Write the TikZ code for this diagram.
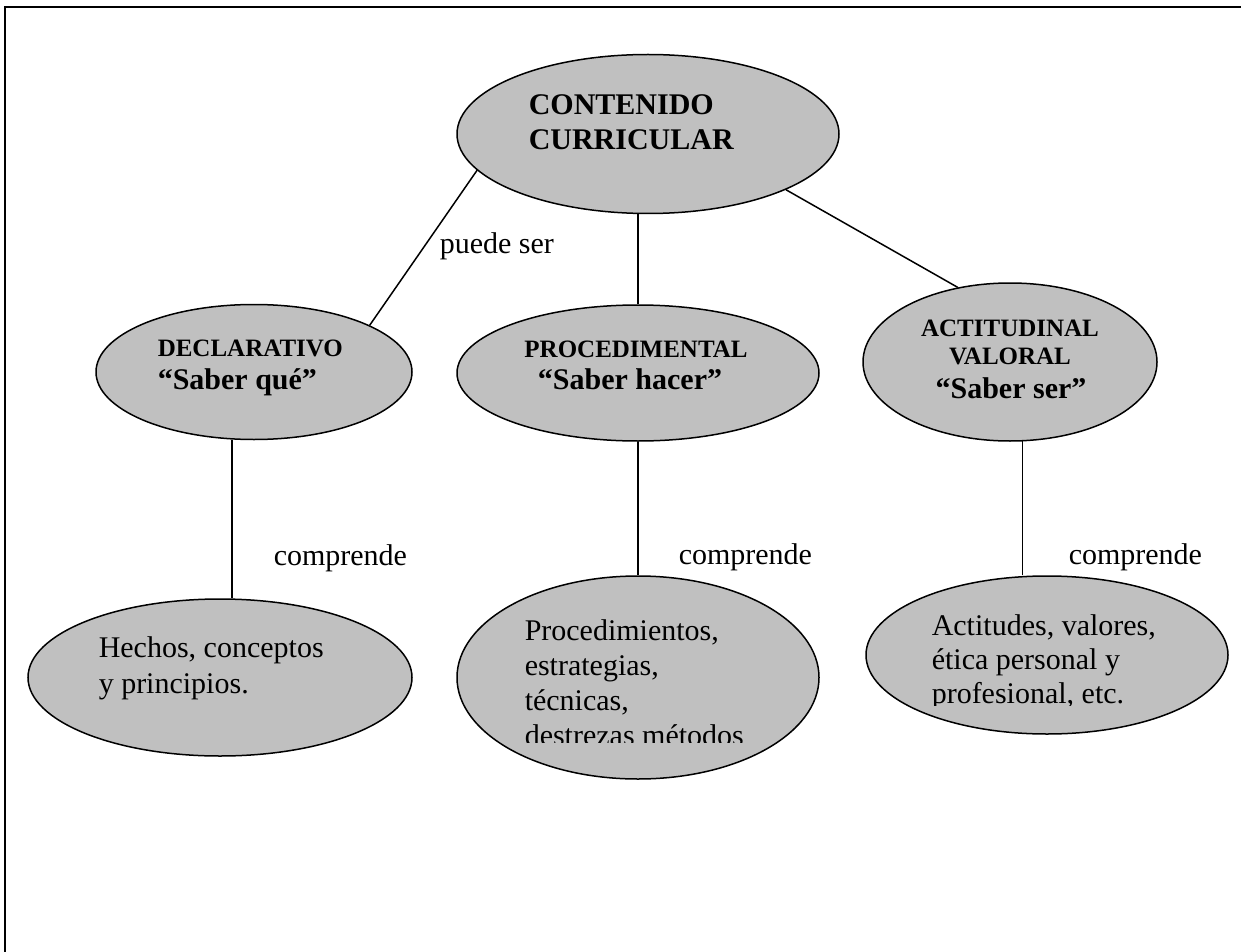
\documentclass[tikz,border=0pt]{standalone}
\usepackage{fontspec}
\setmainfont{Liberation Serif}
\usepackage{tikz}
\usetikzlibrary{shapes.geometric}
\definecolor{elgray}{RGB}{192,192,192}
\tikzset{
 elip/.style={ellipse,draw,fill=elgray,line width=0.75pt,inner sep=0pt},
 txt/.style={inner sep=0pt,font=\fontsize{15}{17.5}\selectfont},
 tit/.style={inner sep=0pt,font=\bfseries\fontsize{15}{17.5}\selectfont},
 sub/.style={inner sep=0pt,font=\bfseries\fontsize{12.5}{15}\selectfont}
}
\begin{document}
\begin{tikzpicture}[x=0.5pt,y=-0.5pt,line width=0.75pt]
\useasboundingbox (0,0) rectangle (1241,952);
\draw[line width=1pt] (5,952) -- (5,7) -- (1241,7);
\node[elip,minimum width=191pt,minimum height=79.5pt](cont) at (648,134){};
\node[elip,minimum width=158pt,minimum height=67.5pt](decl) at (254,372){};
\node[elip,minimum width=181pt,minimum height=68pt](proc) at (638,373){};
\node[elip,minimum width=147pt,minimum height=79pt](act) at (1010,362){};
\node[elip,minimum width=192pt,minimum height=78.5pt](hechos) at (220,677.5){};
\node[elip,minimum width=181pt,minimum height=101.5pt](procs) at (638,677.5){};
\node[elip,minimum width=181pt,minimum height=79pt](actit) at (1047,655){};
\foreach \from/\to in {cont.192/decl.22,cont.338/act.125,proc/procs}
 \draw (\from) -- (\to);
\draw (proc.north) -- (proc.north |- cont.south);
\draw (decl.252) -- (decl.252 |- hechos.north);
\draw (act.279) -- (act.279 |- actit.north);
\node[tit,anchor=base west](contA) at (528,115){CONTENIDO};
\node[tit,anchor=base west](contB) at (528,150){CURRICULAR};
\node[sub,anchor=base west](declA) at (157,356){DECLARATIVO};
\node[tit,anchor=base west](declB) at (157,389){“Saber qué”};
\node[sub,anchor=base](procA) at (636,357){PROCEDIMENTAL};
\node[tit,anchor=base](procB) at (630,389){“Saber hacer”};
\node[sub,anchor=base](actA) at (1010,336){ACTITUDINAL};
\node[sub,anchor=base](actB) at (1010,364){VALORAL};
\node[tit,anchor=base](actC) at (1011,398){“Saber ser”};
\node[txt,anchor=base west](puede) at (439,254){puede ser};
\foreach \x/\y [count=\i] in {273/565,678/564,1068/564}
 \node[txt,anchor=base west](comp\i) at (\x,\y){comprende};
\foreach \y/\t [count=\i] in {657/{Hechos, conceptos},693/{y principios.}}
 \node[txt,anchor=base west](hechosT\i) at (98,\y){\t};
\begin{scope}
\clip (500,600) rectangle (820,742);
\foreach \y/\t [count=\i] in {640/{Procedimientos,},675/{estrategias,},710/{técnicas,},745/{destrezas métodos}}
 \node[txt,anchor=base west](procsT\i) at (524,\y){\t};
\end{scope}
\begin{scope}
\clip (900,600) rectangle (1220,705);
\foreach \y/\t [count=\i] in {635/{Actitudes, valores,},669/{ética personal y},703/{profesional, etc.}}
 \node[txt,anchor=base west](actitT\i) at (931,\y){\t};
\end{scope}
\end{tikzpicture}
\end{document}
